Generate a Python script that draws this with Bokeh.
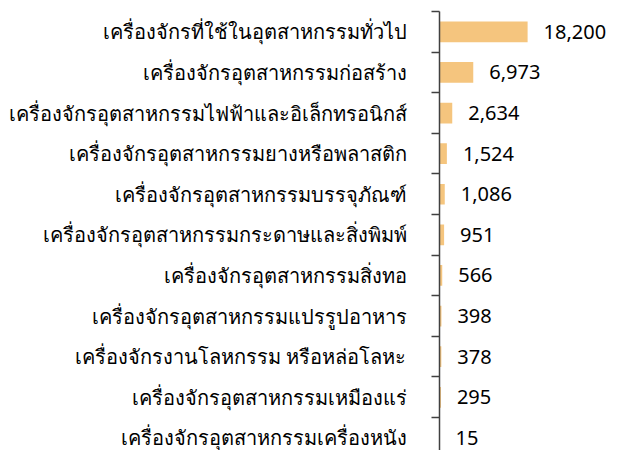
from bokeh.plotting import figure
from bokeh.models import Range1d, FixedTicker, ColumnDataSource
from bokeh.embed import file_html
from bokeh.resources import INLINE
from bokeh.core.properties import value

categories = [
    "เครื่องจักรที่ใช้ในอุตสาหกรรมทั่วไป",
    "เครื่องจักรอุตสาหกรรมก่อสร้าง",
    "เครื่องจักรอุตสาหกรรมไฟฟ้าและอิเล็กทรอนิกส์",
    "เครื่องจักรอุตสาหกรรมยางหรือพลาสติก",
    "เครื่องจักรอุตสาหกรรมบรรจุภัณฑ์",
    "เครื่องจักรอุตสาหกรรมกระดาษและสิ่งพิมพ์",
    "เครื่องจักรอุตสาหกรรมสิ่งทอ",
    "เครื่องจักรอุตสาหกรรมแปรรูปอาหาร",
    "เครื่องจักรงานโลหกรรม หรือหล่อโลหะ",
    "เครื่องจักรอุตสาหกรรมเหมืองแร่",
    "เครื่องจักรอุตสาหกรรมเครื่องหนัง",
]
values = [18200, 6973, 2634, 1524, 1086, 951, 566, 398, 378, 295, 15]
value_labels = [f"{v:,}" for v in values]

idx = list(range(len(categories)))
bounds = [i - 0.5 for i in range(len(categories) + 1)]
src = ColumnDataSource(dict(y=idx, v=values, lab=value_labels))

p = figure(width=622, height=450, output_backend="svg", toolbar_location=None,
           x_range=Range1d(0, 37800), y_range=Range1d(10.31, -0.5),
           min_border_left=439, min_border_right=0, min_border_top=11,
           min_border_bottom=0, outline_line_color=None)

p.hbar(y="y", left=0, right="v", height=0.51, source=src,
       fill_color="#F5C57E", line_color=None)
p.text(x="v", y="y", text="lab", source=src, x_offset=16,
       text_baseline="middle", text_align="left",
       text_font=value("Noto Sans"), text_font_size="20px", text_color="#000000")

p.xaxis.visible = False
p.xgrid.visible = False
p.ygrid.visible = False

ax = p.yaxis[0]
ax.ticker = FixedTicker(ticks=idx, minor_ticks=bounds)
ax.major_label_overrides = {i: c for i, c in enumerate(categories)}
ax.major_tick_line_color = None
ax.major_tick_out = 0
ax.major_tick_in = 0
ax.minor_tick_out = 8
ax.minor_tick_in = 0
ax.minor_tick_line_color = "#404040"
ax.minor_tick_line_width = 1.5
ax.axis_line_color = "#404040"
ax.axis_line_width = 1.5
ax.major_label_standoff = 25
ax.major_label_text_font = "Noto Sans"
ax.major_label_text_font_size = "20px"
ax.major_label_text_color = "#000000"

open("out.html", "w").write(file_html(p, INLINE))
